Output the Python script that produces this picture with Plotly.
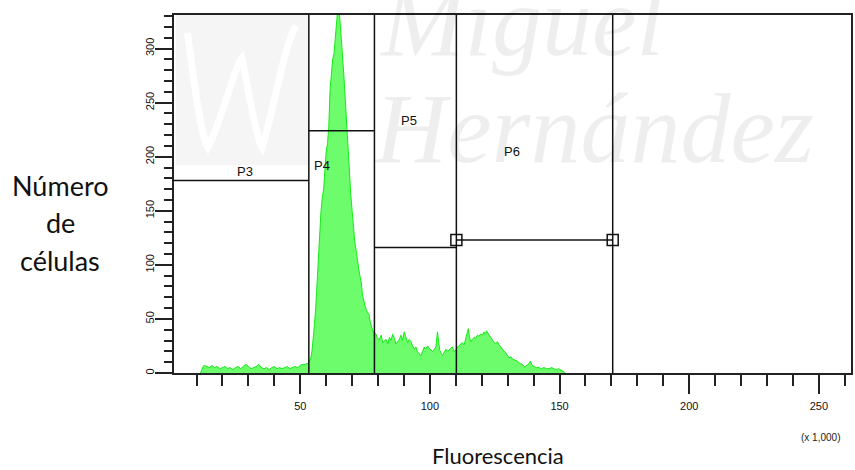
import plotly.graph_objects as go

# Fluorescence histogram (channel in thousands, cell count)
channel = [
    11.5, 12, 12.5, 13, 14, 15, 16, 17, 18, 19, 20, 21, 22, 23, 24, 25, 26, 27, 28, 29,
    30, 31, 32, 33, 34, 35, 36, 37, 38, 39, 40, 41, 42, 43, 44, 45, 46, 47, 48, 49,
    50, 51, 52, 53, 54,
    54.5, 55, 55.5, 56, 56.5, 57, 57.5, 58, 58.5, 59, 59.5, 60, 60.5, 61, 61.5, 62, 62.5,
    63, 63.5, 64, 64.5, 65, 65.5, 66, 66.5, 67, 67.5, 68, 68.5, 69, 69.5, 70, 70.5, 71,
    71.5, 72, 72.5, 73, 73.5, 74, 74.5, 75, 75.5, 76, 76.5, 77, 77.5, 78, 78.5,
    79.2, 79.8, 80.5, 81.2, 81.8, 82.5, 83.1, 83.8, 84.4, 85, 85.6, 86.3, 86.9, 87.5,
    88.2, 88.8, 89.4, 90.1, 90.7, 91.4, 92, 92.7, 93.3, 94, 94.6, 95.2, 95.9, 96.5,
    97.2, 97.8, 98.4, 99.1, 99.7, 100.4, 101, 101.7, 102.3, 102.9, 103.4, 103.8, 104.4,
    104.9, 105.5, 106.2, 106.8, 107.4, 108, 108.7, 109.3, 110, 110.6, 111.3, 111.9,
    112.5, 113.2, 113.8, 114.3, 114.8, 115.3, 115.7, 116.4, 117, 117.7, 118.3, 118.9,
    119.6, 120.2, 120.9, 121.4, 121.8, 122.3, 122.8, 123.5, 124.1, 124.8, 125.4, 126,
    126.7, 127.3, 127.9, 128.6, 129.2, 129.9, 130.5, 131.2, 131.8, 132.7, 133.7, 134.6,
    135.6, 136.5, 137.5, 138.2, 138.8, 139.4, 140.1, 141, 142, 143, 143.9, 145, 145.9,
    147, 147.8, 148.8, 149.7, 150.5, 151, 152.3,
]
cells = [
    0, 4, 6, 7, 6, 5, 7, 5, 6, 4, 5, 6, 4, 5, 3, 5, 6, 4, 6, 8,
    6, 4, 5, 6, 8, 5, 4, 5, 3, 5, 6, 4, 5, 4, 5, 6, 4, 5, 6, 5,
    7, 8, 8, 9, 13,
    20, 30, 45, 62, 85, 108, 130, 150, 162, 170, 188, 205, 212, 228, 262, 280, 290,
    295, 310, 322, 338, 336, 316, 304, 286, 268, 246, 226, 208, 184, 164, 150, 134, 122,
    114, 104, 97, 90, 84, 72, 66, 62, 58, 56, 54, 47, 42, 39, 37,
    36, 32, 31, 35, 28, 30, 31, 27, 33, 30, 36, 32, 27, 29,
    31, 35, 30, 38, 33, 28, 31, 29, 25, 22, 24, 19, 18, 16,
    20, 24, 22, 25, 23, 21, 20, 22, 24, 38, 30, 21, 18,
    16, 19, 22, 20, 21, 23, 24, 20, 21, 24, 25, 27,
    28, 26, 31, 35, 41, 33, 29, 31, 33, 32, 35, 34,
    36, 35, 38, 36, 39, 37, 35, 33, 31, 28, 27, 29,
    26, 24, 22, 20, 19, 16, 14, 15, 13, 12, 11, 9,
    8, 6, 7, 9, 11, 7, 6, 5, 5, 4, 5, 4, 4,
    5, 4, 3, 4, 3, 2, 0,
]

# Gate boundaries (x 1,000) and marker levels (cells)
gate_names = ["P3", "P4", "P5", "P6"]
gate_lo = [1.3, 53.3, 78.6, 110.2]
gate_hi = [53.3, 78.6, 110.2, 170.5]
gate_level = [178, 224, 116, 123]
label_x = [28.6, 58.2, 92.0, 131.7]
label_y = [186, 192, 233, 205]
vertical_gates = [53.3, 78.6, 110.2, 170.5]

x_range = [1.3, 262.4]
y_range = [0, 331]

fig = go.Figure()

fig.add_trace(go.Scatter(
    x=channel, y=cells, mode="lines", fill="tozeroy",
    fillcolor="#6cfc6c", line=dict(color="#14ec14", width=1),
    hoverinfo="skip", showlegend=False,
))

# Horizontal gate bars
for lo, hi, lvl in zip(gate_lo, gate_hi, gate_level):
    fig.add_trace(go.Scatter(
        x=[lo, hi], y=[lvl, lvl], mode="lines",
        line=dict(color="#111111", width=1.5),
        hoverinfo="skip", showlegend=False,
    ))

# Handles on the P6 gate
fig.add_trace(go.Scatter(
    x=[gate_lo[3], gate_hi[3]], y=[gate_level[3], gate_level[3]], mode="markers",
    marker=dict(symbol="square-open", size=11, color="#111111", line=dict(width=1.5)),
    hoverinfo="skip", showlegend=False,
))

shapes = []
# Vertical gate boundaries spanning the full plot height
for gx in vertical_gates:
    shapes.append(dict(type="line", xref="x", yref="paper", x0=gx, x1=gx, y0=0, y1=1,
                       line=dict(color="#111111", width=1.5), layer="above"))

# Faint watermark background pieces
shapes.append(dict(type="rect", xref="paper", yref="paper", x0=0.003, x1=0.2, y0=0.58, y1=1,
                   fillcolor="rgba(0,0,0,0.04)", line=dict(width=0), layer="below"))
shapes.append(dict(type="path", xref="paper", yref="paper",
                   path="M 0.02,0.95 C 0.03,0.80 0.04,0.66 0.05,0.63 C 0.07,0.70 0.09,0.86 0.10,0.88 "
                        "C 0.11,0.80 0.12,0.66 0.13,0.63 C 0.15,0.75 0.16,0.90 0.18,0.97",
                   line=dict(color="white", width=7), layer="below"))

annotations = []
for name, lx, ly in zip(gate_names, label_x, label_y):
    annotations.append(dict(x=lx, y=ly, xref="x", yref="y", text=name, showarrow=False,
                            font=dict(family="Liberation Sans, Arial", size=13, color="#111111")))

wm_font = dict(family="Liberation Serif", size=100, color="rgba(0,0,0,0.065)")
annotations += [
    dict(x=523, y=22, xref="paper", yref="paper", text="<i>Miguel</i>", showarrow=False,
         font=wm_font),
    dict(x=595, y=128, xref="paper", yref="paper", text="<i>Hernández</i>", showarrow=False,
         font=wm_font),
    dict(x=60, y=185, xref="paper", yref="paper", text="Número", showarrow=False,
         font=dict(family="Lato", size=27, color="#111111")),
    dict(x=60, y=222, xref="paper", yref="paper", text="de", showarrow=False,
         font=dict(family="Lato", size=27, color="#111111")),
    dict(x=60, y=260, xref="paper", yref="paper", text="células", showarrow=False,
         font=dict(family="Lato", size=27, color="#111111")),
    dict(x=499, y=455, xref="paper", yref="paper", text="Fluorescencia", showarrow=False,
         font=dict(family="Lato", size=22, color="#111111")),
    dict(x=822, y=437, xref="paper", yref="paper", text="(x 1,000)", showarrow=False,
         font=dict(family="Liberation Sans, Arial", size=10, color="#222222")),
]

# Convert pixel-positioned text annotations to paper coordinates
L, R, T, B, W, H = 174, 2, 15, 97, 855, 470
pw, ph = W - L - R, H - T - B
for a in annotations:
    if a["xref"] == "paper" and a["x"] > 2:
        a["x"] = (a["x"] - L) / pw
        a["y"] = (H - B - a["y"]) / ph
        a["xanchor"] = "center"
        a["yanchor"] = "middle"

axis_font = dict(family="Liberation Sans, Arial", size=11, color="#111111")
fig.update_layout(
    width=W, height=H,
    margin=dict(l=L, r=R, t=T, b=B),
    paper_bgcolor="white", plot_bgcolor="white",
    shapes=shapes, annotations=annotations,
    xaxis=dict(range=x_range, showgrid=False, zeroline=False,
               showline=True, linecolor="#222222", linewidth=1.5, mirror=True,
               ticks="outside", ticklen=19, tickwidth=1.5, tickcolor="#222222",
               tick0=0, dtick=50, tickfont=axis_font, ticklabelstandoff=3,
               minor=dict(ticks="outside", ticklen=11, tickwidth=1.5, tickcolor="#222222",
                          tick0=0, dtick=10, showgrid=False)),
    yaxis=dict(range=y_range, showgrid=False, zeroline=False,
               showline=True, linecolor="#222222", linewidth=1.5, mirror=True,
               ticks="outside", ticklen=17, tickwidth=1.5, tickcolor="#222222",
               tick0=0, dtick=50, tickangle=-90, tickfont=axis_font, ticklabelstandoff=-3,
               minor=dict(ticks="outside", ticklen=8, tickwidth=1.5, tickcolor="#222222",
                          tick0=0, dtick=10, showgrid=False)),
)

fig.write_html("out.html")
